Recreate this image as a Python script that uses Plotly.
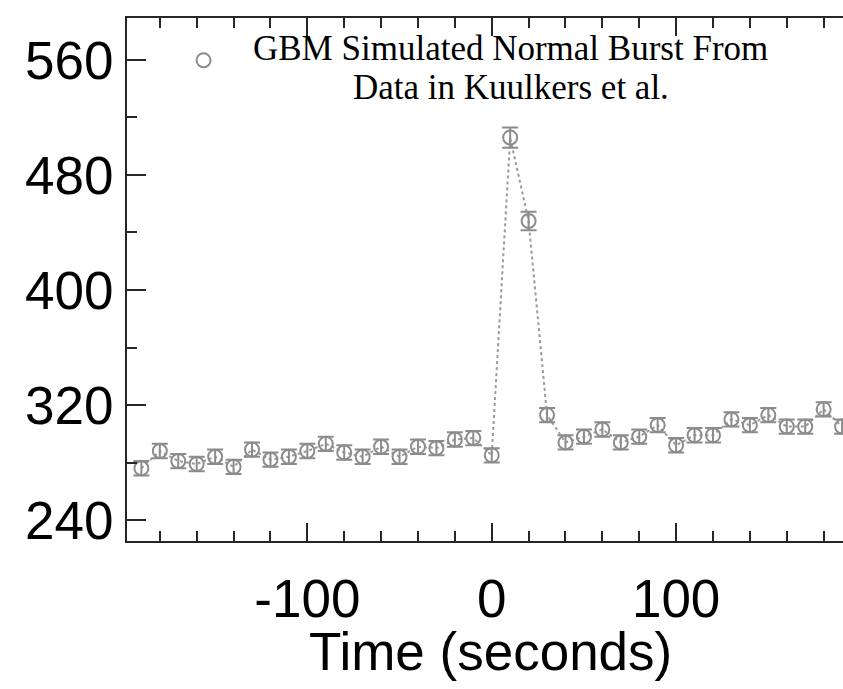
import plotly.graph_objects as go

# Data
time_s = [-190, -180, -170, -160, -150, -140, -130, -120, -110, -100,
          -90, -80, -70, -60, -50, -40, -30, -20, -10, 0,
          10, 20, 30, 40, 50, 60, 70, 80, 90, 100,
          110, 120, 130, 140, 150, 160, 170, 180, 190]
counts = [276, 288, 281, 279, 284, 277, 289, 282, 284, 288,
          293, 287, 284, 291, 284, 291, 290, 296, 297, 285,
          506, 448, 313, 294, 298, 303, 294, 298, 306, 292,
          299, 299, 310, 306, 313, 305, 305, 317, 305]
errors = [5, 5, 5, 5, 5, 5, 5, 5, 5, 5,
          5, 5, 5, 5, 5, 5, 5, 5, 5, 5,
          7, 6.5, 5, 5, 5, 5, 5, 5, 5, 5,
          5, 5, 5, 5, 5, 5, 5, 5, 5]

x_ticks = [-100, 0, 100]
y_ticks = [240, 320, 400, 480, 560]
legend_lines = ["GBM Simulated Normal Burst From", "Data in Kuulkers et al."]
x_title = "Time (seconds)"

GRAY = "#8c8c8c"
AXIS = "#262626"
SANS = "Liberation Sans, Arial, Helvetica, sans-serif"
SERIF = "Liberation Serif, Times New Roman, serif"

fig = go.Figure()
fig.add_trace(go.Scatter(
    x=time_s, y=counts, mode="lines",
    line=dict(color="#9a9a9a", width=2, dash="dot"),
    showlegend=False, hoverinfo="skip"))
fig.add_trace(go.Scatter(
    x=time_s, y=counts, mode="markers",
    marker=dict(symbol="circle-open", size=14, color=GRAY,
                line=dict(color=GRAY, width=2)),
    error_y=dict(type="data", array=errors, visible=True,
                 color=GRAY, thickness=2, width=8),
    name=" ", showlegend=True))

fig.update_layout(
    width=843, height=689,
    margin=dict(l=127, r=0, t=18, b=148),
    paper_bgcolor="white", plot_bgcolor="white",
    showlegend=True,
    legend=dict(x=0.079, y=0.919, xanchor="left", yanchor="middle",
                bgcolor="rgba(0,0,0,0)", font=dict(size=10),
                itemwidth=30),
    xaxis=dict(
        range=[-197.8, 190.5], tickmode="array", tickvals=x_ticks,
        ticktext=[str(v) for v in x_ticks],
        ticks="inside", ticklen=18, tickwidth=2, tickcolor=AXIS,
        showline=True, linecolor=AXIS, linewidth=2, mirror="ticks",
        showgrid=False, zeroline=False,
        minor=dict(dtick=20, ticks="inside", ticklen=10, tickwidth=2,
                   tickcolor=AXIS, showgrid=False),
        tickfont=dict(family=SANS, size=53, color="black"),
        ticklabelstandoff=10,
    ),
    yaxis=dict(
        range=[225.4, 589.2], tickmode="array", tickvals=y_ticks,
        ticktext=[str(v) for v in y_ticks],
        ticks="inside", ticklen=19, tickwidth=2, tickcolor=AXIS,
        showline=True, linecolor=AXIS, linewidth=2, mirror=False,
        showgrid=False, zeroline=False,
        minor=dict(dtick=40, ticks="inside", ticklen=10, tickwidth=2,
                   tickcolor=AXIS, showgrid=False),
        tickfont=dict(family=SANS, size=53, color="black"),
        ticklabelstandoff=1,
    ),
    yaxis2=dict(
        range=[225.4, 589.2], overlaying="y", side="right", anchor="x",
        tickmode="array", tickvals=y_ticks, showticklabels=False,
        ticks="inside", ticklen=5, tickwidth=2, tickcolor=AXIS,
        showline=False, showgrid=False, zeroline=False,
    ),
)

# x-axis title placed as text below the tick labels
fig.add_annotation(
    text=x_title, xref="paper", yref="paper",
    x=0.508, y=-0.212, xanchor="center", yanchor="middle",
    showarrow=False, font=dict(family=SANS, size=53, color="black"),
)

fig.add_annotation(
    text=legend_lines[0], xref="paper", yref="paper",
    x=0.536, y=0.941, xanchor="center", yanchor="middle",
    showarrow=False, font=dict(family=SERIF, size=35, color="black"),
)
fig.add_annotation(
    text=legend_lines[1], xref="paper", yref="paper",
    x=0.536, y=0.868, xanchor="center", yanchor="middle",
    showarrow=False, font=dict(family=SERIF, size=35, color="black"),
)

fig.write_html("out.html")
